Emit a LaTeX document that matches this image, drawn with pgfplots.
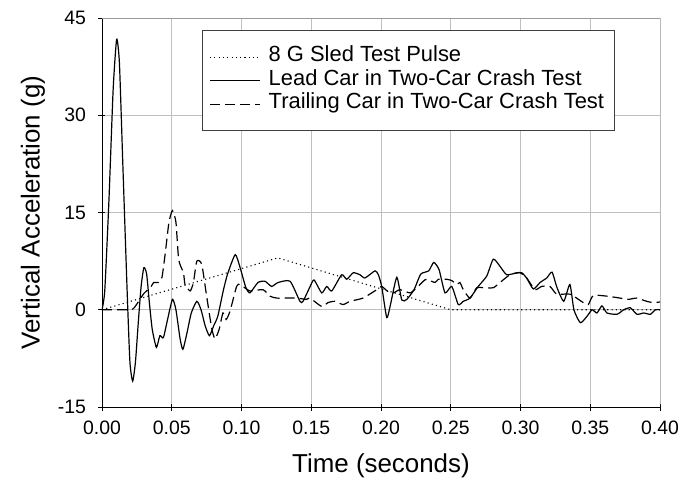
\documentclass[border=0pt]{standalone}
\usepackage{fontspec}
\setmainfont{Liberation Sans}
\usepackage{pgfplots}
\pgfplotsset{compat=1.18}
\begin{document}
\begin{tikzpicture}
\useasboundingbox (-102bp,-86bp) rectangle (597bp,407bp);
\begin{axis}[
 at={(0,0)}, anchor=south west,
 scale only axis, width=558bp, height=389bp,
 xmin=0, xmax=0.4, ymin=-15, ymax=45,
 xtick={0,0.05,0.1,0.15,0.2,0.25,0.3,0.35,0.4},
 ytick={-15,0,15,30,45},
 scaled x ticks=false,
 grid=major, major grid style={black!25, line width=0.9bp},
 axis x line*=bottom, axis y line*=left,
 axis line style={black, line width=0.8bp, -},
 tick align=center, major tick length=7bp, tick style={black, line width=0.8bp},
 x tick label style={/pgf/number format/.cd, fixed, fixed zerofill, precision=2, /tikz/.cd, yshift=-7bp},
 y tick label style={xshift=-9bp},
 /pgf/number format/assume math mode=true,
 tick label style={font=\fontsize{19.5}{22}\selectfont},
 xlabel={Time (seconds)}, ylabel={Vertical Acceleration (g)},
 label style={font=\fontsize{26}{30}\selectfont},
 xlabel style={at={(axis description cs:0.5,0)}, anchor=center, yshift=-59bp},
 ylabel style={at={(axis description cs:-0.1237,0.5)}, anchor=center},
 legend style={at={(rel axis cs:0.1792,0.9692)}, anchor=north west, draw=black!75, line width=1bp,
   fill=white, font=\fontsize{22}{24}\selectfont, inner xsep=7bp, inner ysep=15bp,
   row sep=0bp, column sep=5bp, cells={anchor=west},
   nodes={inner xsep=3bp, inner ysep=1.5bp, text height=15bp, text depth=5.5bp}},
 legend image code/.code={\draw[#1] (0bp,0bp) -- (50bp,0bp);},
 clip=true,
]
\draw[black!40, line width=1bp] (rel axis cs:0,1) -- (rel axis cs:1,1) -- (rel axis cs:1,0);
\addplot[black, line width=1.1bp, dash pattern=on 1.1bp off 3.2bp] coordinates {
(0,0) (0.126,8) (0.25,0) (0.4,0)};
\addlegendentry{8 G Sled Test Pulse}
\addplot[black, line width=1.2bp, smooth, tension=0.35] coordinates {
(0,0) (0.002,3) (0.005,17) (0.008,34) (0.0105,41.7) (0.0125,38) (0.015,22) (0.018,3)
(0.020,-8) (0.022,-11) (0.024,-8) (0.026,-2) (0.028,3.5) (0.030,6.5) (0.032,5.5)
(0.034,1) (0.036,-3) (0.039,-5.8) (0.0415,-4) (0.044,-4.3) (0.047,-1.5) (0.0505,1.6)
(0.053,0) (0.056,-4.5) (0.058,-6.1) (0.061,-3.5) (0.064,-0.5) (0.068,1.3) (0.071,0)
(0.074,-2.5) (0.077,-4) (0.080,-2.5) (0.083,-1) (0.087,3) (0.090,5.5) (0.0955,8.5)
(0.099,6.5) (0.103,3.5) (0.106,2.6) (0.1118,4.2) (0.1168,4.4) (0.1216,3.6) (0.1262,4.2)
(0.1348,4.4) (0.1419,1.3) (0.1441,1.3) (0.149,3.5) (0.152,4.6) (0.1575,2.6) (0.1611,3.6)
(0.1647,2.9) (0.1718,5.4) (0.1754,4.7) (0.1801,5.7) (0.1849,5.4) (0.1885,4.9) (0.1957,6.0)
(0.1981,5.4) (0.2005,3.6) (0.2041,-1.2) (0.2065,0.5) (0.2113,5.0) (0.2149,1.5) (0.2185,1.6)
(0.2237,3.1) (0.2285,5.5) (0.2342,6.0) (0.2378,7.3) (0.2416,6.2) (0.2459,2.6) (0.2507,3.6)
(0.2554,0.8) (0.259,1.3) (0.2638,1.8) (0.2697,3.6) (0.2758,5.2) (0.2805,7.8) (0.2853,6.7)
(0.2901,5.4) (0.2973,5.7) (0.3009,5.7) (0.3044,4.9) (0.3092,3.2) (0.314,4.2) (0.3188,4.9)
(0.3226,5.8) (0.3262,3.4) (0.331,1.3) (0.3354,3.9) (0.3383,0) (0.3429,-2.0) (0.3477,-1.0)
(0.3513,0) (0.3548,-0.5) (0.3584,0.6) (0.362,-0.5) (0.3692,-0.7) (0.374,0) (0.3787,0.3)
(0.3835,-0.7) (0.3883,-0.5) (0.3931,-0.7) (0.3967,0) (0.4,0)};
\addlegendentry{Lead Car in Two-Car Crash Test}
\addplot[black, line width=1.2bp, dash pattern=on 10bp off 5bp, smooth, tension=0.35] coordinates {
(0,0) (0.020,0) (0.023,0.3) (0.026,1.2) (0.030,2.5) (0.035,3.5) (0.037,4.2) (0.0405,4.2)
(0.043,5) (0.0455,9) (0.048,13.5) (0.0505,15.3) (0.053,13.5) (0.055,7.7) (0.0584,5.7) (0.0595,3.9)
(0.0632,2.9) (0.0655,4.2) (0.068,7.5) (0.0715,7.0) (0.075,2.1) (0.0786,-2.8) (0.081,-4.5)
(0.084,-3) (0.0867,-0.5) (0.089,-1.5) (0.0918,-0.2) (0.0965,3.6) (0.099,3.9) (0.106,2.9)
(0.1154,3.1) (0.1204,2.1) (0.1252,1.8) (0.1323,1.8) (0.1395,1.8) (0.1467,1.6) (0.1491,1.8)
(0.1575,0.5) (0.162,1.1) (0.167,1.3) (0.1728,0.8) (0.1778,1.3) (0.1871,1.8) (0.197,3.1)
(0.2005,3.6) (0.205,2.8) (0.209,2.6) (0.2136,3.1) (0.2208,2.6) (0.2256,3.4) (0.2303,4.4)
(0.2328,4.7) (0.2387,4.2) (0.2411,4.7) (0.2471,4.7) (0.2507,4.5) (0.2543,3.9) (0.2566,4.2)
(0.259,3.1) (0.2638,1.8) (0.2686,3.4) (0.2733,3.4) (0.2805,3.4) (0.2853,4.2) (0.2925,5.4)
(0.2996,5.7) (0.3044,4.9) (0.3104,3.1) (0.3152,3.6) (0.3211,3.6) (0.326,2.4) (0.3355,2.4)
(0.345,1.1) (0.3486,0.8) (0.3522,2.2) (0.3618,2.1) (0.3713,1.8) (0.3773,1.6) (0.3833,1.8)
(0.3904,1.3) (0.3952,1.1) (0.4,1.2)};
\addlegendentry{Trailing Car in Two-Car Crash Test}
\end{axis}
\end{tikzpicture}
\end{document}
